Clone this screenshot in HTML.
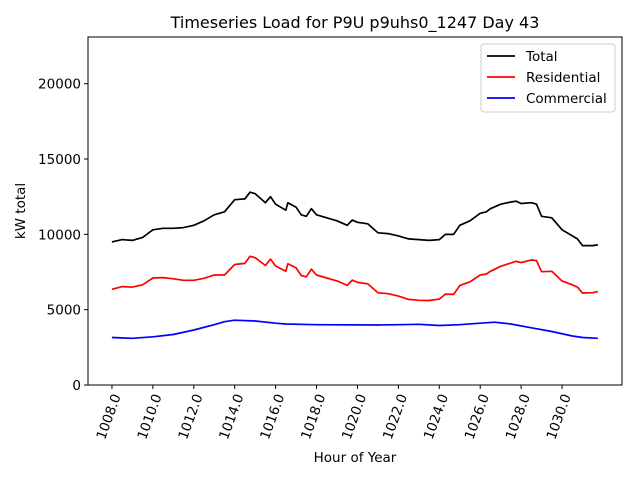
<!DOCTYPE html>
<html><head><meta charset="utf-8"><style>
body{margin:0;background:#fff;font-family:"Liberation Sans","DejaVu Sans",sans-serif}
svg text{font-family:"DejaVu Sans","Liberation Sans",sans-serif}
</style></head><body>
<svg id="chart" width="640" height="480" xmlns="http://www.w3.org/2000/svg"></svg>
<script>
const hours=[1008,1008.5,1009,1009.5,1010,1010.5,1011,1011.5,1012,1012.5,1013,1013.5,1014,1014.5,1014.75,1015,1015.5,1015.75,1016,1016.5,1016.6,1017,1017.25,1017.5,1017.75,1018,1018.5,1019,1019.5,1019.75,1020,1020.5,1021,1021.5,1022,1022.5,1023,1023.5,1024,1024.3,1024.7,1025,1025.5,1026,1026.3,1026.5,1027,1027.5,1027.75,1028,1028.5,1028.75,1029,1029.5,1030,1030.5,1030.75,1031,1031.5,1031.75];
const totalLoad=[9500,9650,9600,9800,10300,10400,10400,10450,10600,10900,11300,11500,12300,12350,12800,12700,12100,12500,12000,11600,12100,11800,11300,11200,11700,11300,11100,10900,10600,10950,10800,10700,10100,10050,9900,9700,9650,9600,9650,10000,10000,10600,10900,11400,11500,11700,12000,12150,12200,12050,12100,12000,11200,11100,10300,9900,9700,9250,9250,9300];
const residentialLoad=[6350,6530,6500,6650,7100,7130,7050,6950,6950,7080,7300,7300,8000,8070,8540,8450,7930,8360,7900,7550,8050,7770,7270,7180,7690,7300,7100,6910,6610,6960,6810,6715,6120,6060,5900,5685,5620,5610,5700,6035,6015,6600,6850,7300,7370,7550,7880,8100,8210,8125,8300,8260,7520,7550,6900,6650,6500,6100,6130,6200];
const commercialHours=[1008,1009,1010,1011,1012,1013,1013.5,1014,1015,1016,1016.5,1018,1021,1022,1023,1024,1025,1026,1026.7,1027.5,1028.5,1029.5,1030.5,1031,1031.75];
const commercialLoad=[3150,3100,3200,3350,3650,4000,4200,4300,4250,4100,4050,4000,3980,4000,4030,3950,4000,4100,4170,4050,3800,3550,3250,3150,3100];
const xTicks=[1008,1010,1012,1014,1016,1018,1020,1022,1024,1026,1028,1030];
const yTicks=[0,5000,10000,15000,20000];

const L=88,R=622,T=37,B=385;
const xMin=1006.83,xMax=1032.93,yMax=23100;
const X=h=>L+(h-xMin)/(xMax-xMin)*(R-L);
const Y=v=>B-v/yMax*(B-T);
const svg=document.getElementById('chart');
const NS='http://www.w3.org/2000/svg';
function mk(tag,attrs,parent){const e=document.createElementNS(NS,tag);for(const k in attrs)e.setAttribute(k,attrs[k]);(parent||svg).appendChild(e);return e;}

const title=mk('text',{x:355,y:28,'text-anchor':'middle','font-size':16,fill:'#000'});
title.textContent='Timeseries Load for P9U p9uhs0_1247  Day 43';



function series(xs,ys,color,name){
  const p=mk('polyline',{points:xs.map((h,i)=>X(h).toFixed(1)+','+Y(ys[i]).toFixed(1)).join(' '),fill:'none',stroke:color,'stroke-width':1.7,'stroke-linejoin':'round'});
  
  
}
series(hours,totalLoad,'#000','total-line');
series(hours,residentialLoad,'#ff0000','residential-line');
series(commercialHours,commercialLoad,'#0000ff','commercial-line');

const frame=mk('rect',{x:L,y:T,width:R-L,height:B-T,fill:'none',stroke:'#000','stroke-width':1});



xTicks.forEach(t=>{
  const x=X(t);
  mk('line',{x1:x,y1:B,x2:x,y2:B+4,stroke:'#000'});
  const tx=mk('text',{x:0,y:0,'font-size':13.5,'text-anchor':'end',transform:`translate(${x+9},${B+11}) rotate(-70)`,fill:'#000'});
  tx.textContent=t.toFixed(1);
  
  
});
yTicks.forEach(t=>{
  const y=Y(t);
  mk('line',{x1:L-4,y1:y,x2:L,y2:y,stroke:'#000'});
  const ty=mk('text',{x:L-7,y:y+5,'font-size':13.5,'text-anchor':'end',fill:'#000'});
  ty.textContent=t;
  
  
});
const xt=mk('text',{x:355,y:462,'font-size':13.5,'text-anchor':'middle',fill:'#000'});
xt.textContent='Hour of Year';


const yt=mk('text',{x:0,y:0,'font-size':13.5,'text-anchor':'middle',transform:'translate(25,211) rotate(-90)',fill:'#000'});
yt.textContent='kW total';



const lg=mk('g',{});


mk('rect',{x:481,y:44,width:134,height:68,rx:3,fill:'#fff',stroke:'#ccc'},lg);
[['Total','#000'],['Residential','#ff0000'],['Commercial','#0000ff']].forEach((d,i)=>{
  const y=56+i*21;
  const g=mk('g',{},lg);
  
  
  mk('line',{x1:487,y1:y,x2:515,y2:y,stroke:d[1],'stroke-width':1.7},g);
  const t=mk('text',{x:526,y:y+5,'font-size':13.5,fill:'#000'},g);
  t.textContent=d[0];
});
</script>
</body></html>
